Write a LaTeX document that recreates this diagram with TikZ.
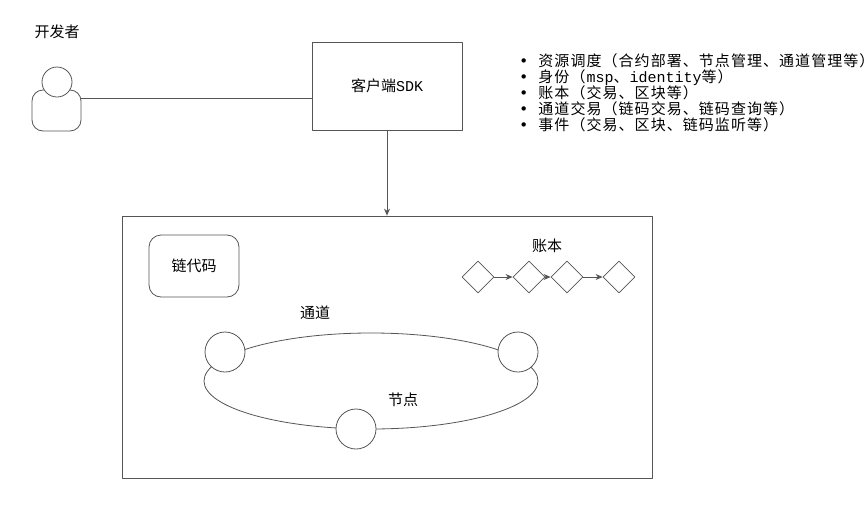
\documentclass[tikz,border=0pt]{standalone}
\usepackage{fontspec}
\setmainfont{Noto Sans CJK SC}
\setmonofont{Liberation Mono}
\newfontfamily\listfont[LetterSpace=7]{Noto Sans CJK SC}
\newfontfamily\dotfont{DejaVu Sans}
\usetikzlibrary{shapes.geometric,arrows.meta}
\definecolor{linegray}{RGB}{85,85,85}
\tikzset{
	box/.style={draw=linegray,inner sep=0pt},
	peer/.style={circle,draw=linegray,fill=white,minimum size=40pt,inner sep=0pt},
	block/.style={diamond,draw=linegray,fill=white,minimum width=32pt,minimum height=32pt,inner sep=0pt},
	tag/.style={font=\fontsize{15pt}{16pt}\selectfont},
	item/.style={anchor=base west,inner sep=0pt,font=\fontsize{15pt}{16pt}\listfont}
}
\begin{document}
\begin{tikzpicture}[
	x=1pt,y=-1pt,
	>={Stealth[length=7pt,width=6pt]},
	line width=0.8pt,
	line cap=round,
	line join=round
	]
	\useasboundingbox (0,0) rectangle (865,517);
	% developer
	\node[tag] (devname) at (57,32) {开发者};
	\node[box,rounded corners=11pt,minimum width=49pt,minimum height=41pt] (body) at (56.5,110.5) {};
	\node[box,circle,fill=white,minimum size=30pt] (head) at (57,82) {};
	% sdk
	\node[box,tag,minimum width=150pt,minimum height=88pt] (sdk) at (387,86) {客户端\texttt{SDK}};
	\coordinate (link) at (0,98);
	\draw[linegray] (body.east |- link) -- (sdk.west |- link);
	% features
	\foreach \y/\txt in {66.4/资源调度（合约部署、节点管理、通道管理等）,
		82.4/身份（\texttt{msp}、\texttt{identity}等）,
		98.4/账本（交易、区块等）,
		114.4/通道交易（链码交易、链码查询等）,
		130.4/事件（交易、区块、链码监听等）}
		\node[item] at (519,\y) {\makebox[19pt][l]{\dotfont •}\txt};
	% network
	\node[box,minimum width=530pt,minimum height=262pt] (net) at (387,347) {};
	\draw[->,linegray] (sdk) -- (net);
	\node[box,tag,rounded corners=12pt,minimum width=90pt,minimum height=62pt] (chaincode) at (194,266) {链代码};
	\node[tag] (channel) at (315,313) {通道};
	\draw[linegray] (371,381) ellipse [x radius=167, y radius=48];
	\node[peer] (peer1) at (225,352) {};
	\node[peer] (peer2) at (518,352) {};
	\node[peer] (peer3) at (356,429) {};
	\node[tag] (peers) at (403,400) {节点};
	% ledger
	\node[tag] (ledger) at (547,246) {账本};
	\foreach \n/\x in {1/478,2/529,3/567,4/619}
		\node[block] (blk\n) at (\x,277) {};
	\foreach \a/\b in {1/2,2/3,3/4}
		\draw[->,linegray] (blk\a) -- (blk\b);
\end{tikzpicture}
\end{document}
